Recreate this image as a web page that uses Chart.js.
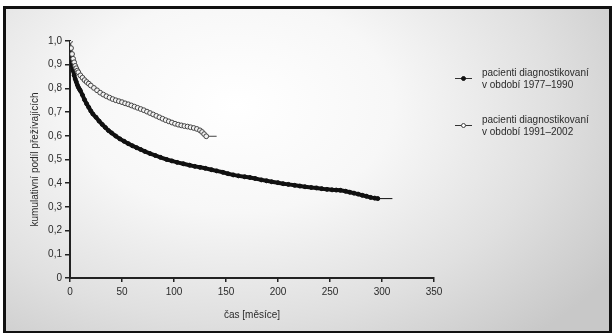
<!DOCTYPE html>
<html>
<head>
<meta charset="utf-8">
<script src="https://cdn.jsdelivr.net/npm/chart.js@4.4.0/dist/chart.umd.min.js"></script>
<style>
  body { margin: 0; width: 612px; height: 333px; overflow: hidden; font-family: "Liberation Sans", Arial, sans-serif; }
  #ramecek {
    position: absolute; left: 3px; top: 6px; width: 609px; height: 327px;
    box-sizing: border-box; border: 3px solid #111; border-bottom-width: 2px;
    background: radial-gradient(ellipse 75% 95% at 38% 30%, #ffffff 0%, #f7f7f7 35%, #e0e0e0 70%, #c8c8c8 100%);
  }
  #graf { position: absolute; left: 0; top: 0; }
  .legenda { position: absolute; left: 482px; font-size: 10px; line-height: 11.5px; color: #2a2a2a; }
  .znacka { position: absolute; width: 17px; height: 1px; background: #333; }
  .znacka span { position: absolute; left: 6px; top: -2px; width: 5px; height: 5px; border-radius: 50%; box-sizing: border-box; }
</style>
</head>
<body>
<div id="ramecek"></div>
<canvas id="graf" width="612" height="333"></canvas>

<div class="znacka" style="left:455px; top:78px;"><span style="background:#111; border:1px solid #111;"></span></div>
<div class="legenda" style="top:67px;">pacienti diagnostikovaní<br>v období 1977–1990</div>
<div class="znacka" style="left:455px; top:125px;"><span style="background:#fff; border:1px solid #444;"></span></div>
<div class="legenda" style="top:114px;">pacienti diagnostikovaní<br>v období 1991–2002</div>

<script>
// čas v měsících a kumulativní podíl přežívajících
const casStarsi = [0, 1, 2, 3, 4, 5, 6, 7, 8, 9, 10, 12, 14, 16, 18, 20, 22, 25, 28, 31, 34, 37, 40, 44, 48, 52, 56, 60, 64, 68, 72, 77, 82, 87, 93, 98, 103, 109, 115, 120, 125, 130, 136, 141, 147, 152, 157, 162, 168, 173, 178, 184, 189, 194, 200, 205, 210, 216, 221, 226, 232, 237, 242, 247, 252, 256, 260, 265, 269, 273, 277, 281, 285, 289, 293, 296, 310];
const podilStarsi = [0.97, 0.93, 0.90, 0.875, 0.855, 0.84, 0.828, 0.815, 0.805, 0.797, 0.79, 0.772, 0.752, 0.735, 0.72, 0.705, 0.692, 0.678, 0.662, 0.648, 0.635, 0.622, 0.612, 0.599, 0.587, 0.577, 0.567, 0.558, 0.55, 0.542, 0.534, 0.525, 0.517, 0.509, 0.50, 0.494, 0.488, 0.482, 0.476, 0.471, 0.467, 0.463, 0.457, 0.452, 0.446, 0.44, 0.435, 0.431, 0.427, 0.424, 0.42, 0.414, 0.41, 0.406, 0.402, 0.398, 0.395, 0.391, 0.388, 0.385, 0.382, 0.38, 0.377, 0.374, 0.372, 0.371, 0.37, 0.366, 0.362, 0.358, 0.354, 0.349, 0.345, 0.34, 0.337, 0.335, 0.335];

const casNovejsi = [0, 1, 2, 3, 4, 5, 6, 7, 8, 10, 12, 14, 16, 18, 20, 23, 26, 29, 32, 35, 38, 41, 44, 47, 50, 53, 56, 59, 62, 65, 68, 71, 74, 77, 80, 83, 86, 89, 92, 95, 98, 101, 104, 107, 110, 113, 116, 119, 122, 125, 127, 129, 131, 141];
const podilNovejsi = [1.0, 0.97, 0.945, 0.925, 0.91, 0.895, 0.885, 0.875, 0.868, 0.855, 0.845, 0.835, 0.827, 0.82, 0.812, 0.802, 0.792, 0.782, 0.774, 0.767, 0.761, 0.755, 0.75, 0.746, 0.742, 0.737, 0.733, 0.728, 0.723, 0.718, 0.713, 0.708, 0.702, 0.696, 0.69, 0.684, 0.678, 0.672, 0.666, 0.661, 0.656, 0.651, 0.647, 0.644, 0.641, 0.639, 0.636, 0.633, 0.629, 0.623, 0.616, 0.607, 0.598, 0.598];

const xTicky = [0, 50, 100, 150, 200, 250, 300, 350];

function body(cas, podil) {
    return cas.map((c, i) => ({ x: c, y: podil[i] }));
}

// posledni bod je jen konec cary, bez znacky
function polomer(r) {
    return (ctx) => ctx.dataIndex === ctx.dataset.data.length - 1 ? 0 : r;
}

// posledni usek (za poslednim pacientem) je tenka cara
function sirkaUseku(sirka) {
    return (ctx) => ctx.p1DataIndex === ctx.chart.data.datasets[ctx.datasetIndex].data.length - 1 ? 1 : sirka;
}

const pismo = { family: '"Liberation Sans", Arial, sans-serif', size: 10 };

new Chart(document.getElementById('graf'), {
    type: 'scatter',
    data: {
        datasets: [{
            label: 'pacienti diagnostikovaní v období 1991–2002',
            data: body(casNovejsi, podilNovejsi),
            showLine: true,
            borderColor: '#444',
            borderWidth: 1.5,
            segment: { borderWidth: sirkaUseku(1.5) },
            pointBackgroundColor: '#f2f2f2',
            pointBorderColor: '#444',
            pointBorderWidth: 1,
            pointRadius: polomer(2.4),
            order: 0
        }, {
            label: 'pacienti diagnostikovaní v období 1977–1990',
            data: body(casStarsi, podilStarsi),
            showLine: true,
            borderColor: '#111',
            borderWidth: 4,
            segment: { borderWidth: sirkaUseku(4) },
            pointBackgroundColor: '#111',
            pointBorderColor: '#111',
            pointBorderWidth: 1,
            pointRadius: polomer(2),
            order: 1
        }]
    },
    options: {
        responsive: false,
        animation: false,
        layout: { padding: { left: 0, top: 41, right: 178, bottom: 0 } },
        plugins: { legend: { display: false }, tooltip: { enabled: false } },
        scales: {
            x: {
                type: 'linear',
                min: 0,
                max: 350,
                afterBuildTicks: (scale) => { scale.ticks = xTicky.map(v => ({ value: v })); },
                afterFit: (scale) => { scale.height = 55; },
                border: { display: true, color: '#222', width: 2 },
                grid: { drawOnChartArea: false, color: '#222', tickLength: 4, lineWidth: 1.5 },
                ticks: { color: '#2a2a2a', font: pismo, padding: 4, maxRotation: 0 },
                title: { display: true, text: 'čas [měsíce]', color: '#2a2a2a', font: pismo, padding: { top: 0, bottom: 12 } }
            },
            y: {
                min: 0,
                max: 1,
                afterFit: (scale) => { scale.width = 70; },
                border: { display: true, color: '#222', width: 2 },
                grid: { drawOnChartArea: false, color: '#222', tickLength: 5, lineWidth: 1.5 },
                ticks: {
                    stepSize: 0.1,
                    color: '#2a2a2a',
                    font: pismo,
                    padding: 3,
                    callback: (v) => v === 0 ? '0' : v.toFixed(1).replace('.', ',')
                },
                title: { display: true, text: 'kumulativní podíl přežívajících', color: '#2a2a2a', font: pismo, padding: { top: 29, bottom: 0 } }
            }
        }
    }
});
</script>
</body>
</html>
